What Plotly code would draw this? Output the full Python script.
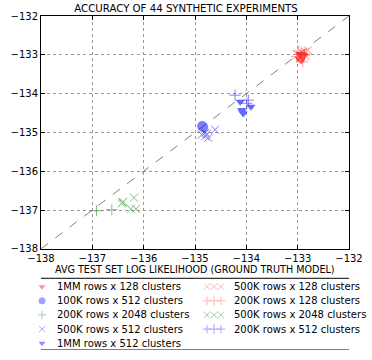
import plotly.graph_objects as go

# diagonal reference line (perfect agreement)
diag = [-138, -132]

# red: 128 clusters
r1mm_x = [-132.95, -132.92, -132.90, -132.97, -132.88, -132.93]
r1mm_y = [-132.98, -133.05, -133.00, -133.10, -133.02, -133.15]
r500_x = [-132.85, -132.80, -132.95, -132.90, -133.00, -132.83]
r500_y = [-132.92, -132.88, -133.08, -132.95, -133.00, -133.05]
r200_x = [-132.98, -132.90, -132.87, -133.02, -132.93]
r200_y = [-132.90, -133.18, -133.00, -133.05, -132.95]

# blue: 512 clusters
b100_x = [-134.85, -134.83, -134.86, -134.84, -134.87]
b100_y = [-134.84, -134.86, -134.82, -134.88, -134.85]
b500_x = [-134.61, -134.80, -134.80, -134.74, -134.87, -134.77]
b500_y = [-134.93, -135.01, -135.10, -135.14, -135.06, -135.04]
b1mm_x = [-134.12, -134.09, -134.06, -133.91, -134.08]
b1mm_y = [-134.21, -134.42, -134.51, -134.34, -134.47]
b200_x = [-134.22, -133.96, -133.99]
b200_y = [-134.04, -134.17, -134.25]

# green: 2048 clusters
g200_x = [-136.92, -136.62]
g200_y = [-137.02, -136.99]
g500_x = [-136.41, -136.40, -136.19, -136.25, -136.15, -136.43]
g500_y = [-136.81, -136.79, -136.68, -136.97, -136.97, -136.83]

ticks = [-138, -137, -136, -135, -134, -133, -132]

# name, x, y, symbol, color, opacity, size  (legend order is column by column)
series = [
  ("1MM rows x 128 clusters", r1mm_x, r1mm_y, "triangle-down", "red", 0.6, 8),
  ("100K rows x 512 clusters", b100_x, b100_y, "circle", "blue", 0.5, 9),
  ("200K rows x 2048 clusters", g200_x, g200_y, "cross-thin", "green", 0.5, 8),
  ("500K rows x 512 clusters", b500_x, b500_y, "x-thin", "blue", 0.5, 8),
  ("1MM rows x 512 clusters", b1mm_x, b1mm_y, "triangle-down", "blue", 0.6, 8),
  ("500K rows x 128 clusters", r500_x, r500_y, "x-thin", "red", 0.4, 8),
  ("200K rows x 128 clusters", r200_x, r200_y, "cross-thin", "red", 0.4, 8),
  ("500K rows x 2048 clusters", g500_x, g500_y, "x-thin", "green", 0.5, 8),
  ("200K rows x 512 clusters", b200_x, b200_y, "cross-thin", "blue", 0.5, 8),
]

font = "DejaVu Sans"
W, H = 372, 360
L, R, T, B = 41, 23, 16, 4
plot_bottom = 253  # pixel row of the x axis


def marker(symbol, color, size):
  line = dict(width=1, color=color) if "thin" in symbol else dict(width=0)
  return dict(symbol=symbol, size=size, color=color, line=line)


fig = go.Figure()
fig.add_trace(go.Scatter(x=diag, y=diag, mode="lines", showlegend=False,
                         line=dict(color="gray", dash="dash", width=1)))
for name, x, y, sym, col, op, sz in series:
  fig.add_trace(go.Scatter(x=x, y=y, mode="markers", name=name, opacity=op,
                           showlegend=False, marker=marker(sym, col, sz)))

# matplotlib-style legend drawn on a hidden overlay axis measured in pixels
row0, row_h = 291.5, 14.4
cols = [(28, 55), (207, 232)]
for i, (name, x, y, sym, col, op, sz) in enumerate(series):
  c, r = divmod(i, 5)
  mx, tx = cols[c]
  py = row0 + r * row_h
  fig.add_trace(go.Scatter(x=[mx, mx + 7, mx + 14], y=[py] * 3, mode="markers",
                           xaxis="x2", yaxis="y2", showlegend=False, cliponaxis=False,
                           opacity=op, hoverinfo="skip",
                           marker=marker(sym, col, [sz - 2, sz - 1, sz - 2])))
  fig.add_annotation(x=tx, y=py, xref="x2", yref="y2", text=name, showarrow=False,
                     xanchor="left", yanchor="middle", font=dict(size=10))
fig.add_shape(type="rect", xref="x2", yref="y2", x0=22.5, x1=363.5, y0=283, y1=356,
              line=dict(color="black", width=1))

axis = dict(range=[-138, -132], tickvals=ticks, showgrid=True, gridcolor="#999",
            griddash="dot", gridwidth=1, showline=True, linecolor="black", linewidth=1,
            mirror="ticks", ticks="inside", ticklen=4, tickcolor="black",
            zeroline=False, tickfont=dict(size=10, color="black"))

ph = H - T - B
fig.update_layout(
  width=W, height=H,
  margin=dict(l=L, r=R, t=T, b=B),
  paper_bgcolor="white", plot_bgcolor="rgba(0,0,0,0)",
  font=dict(family=font, size=10, color="black"),
  showlegend=False,
  title=dict(text="ACCURACY OF 44 SYNTHETIC EXPERIMENTS", x=0.5, xanchor="center",
             y=1 - 8 / H, yanchor="middle", font=dict(size=10.2)),
  xaxis=dict(axis, domain=[0, 1]),
  yaxis=dict(axis, domain=[(H - B - plot_bottom) / ph, 1]),
  xaxis2=dict(range=[L, W - R], domain=[0, 1], visible=False, anchor="y2", fixedrange=True),
  yaxis2=dict(range=[H - B, T], domain=[0, 1], visible=False, anchor="x2", fixedrange=True),
)

# axis titles placed as in the original
fig.add_annotation(x=(L + W - R) / 2, y=274, xref="x2", yref="y2", showarrow=False,
                   text="AVG TEST SET LOG LIKELIHOOD (GROUND TRUTH MODEL)",
                   font=dict(size=9.6), xanchor="center", yanchor="middle")
fig.add_annotation(x=13, y=(T + plot_bottom) / 2 + 1, xref="x2", yref="y2", showarrow=False,
                   text="AVG TEST SET LOG LIKELIHOOD (LEARNED MODEL)", textangle=-90,
                   font=dict(size=9.5), xanchor="center", yanchor="middle")

# pin the figure to the top-left corner so the page is exactly the figure
page_css = (
  "document.body.style.margin = '0';"
  "document.documentElement.style.overflow = 'hidden';"
  "document.body.style.overflow = 'hidden';"
  "var gd = document.querySelector('.plotly-graph-div');"
  "gd.style.position = 'fixed'; gd.style.top = '0'; gd.style.left = '0';"
)
fig.write_html("out.html", config={"displayModeBar": False}, post_script=page_css)
